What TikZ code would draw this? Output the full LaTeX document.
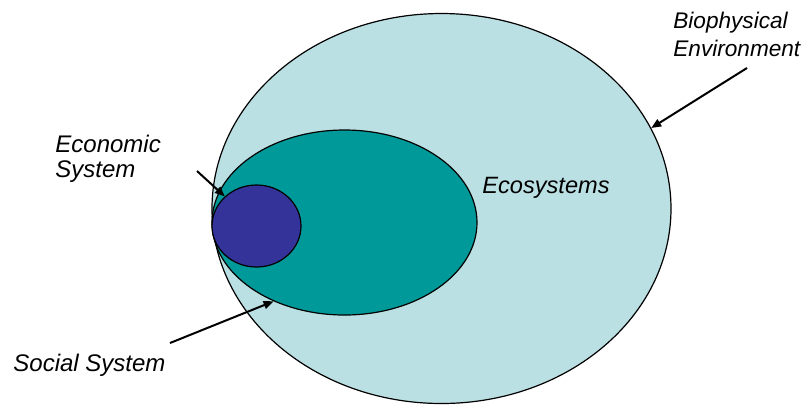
\documentclass[tikz,border=0pt]{standalone}
\usepackage{fontspec}
\setmainfont{Liberation Sans}
\usepackage{xcolor}
\usepackage{tikz}
\usetikzlibrary{arrows.meta,shapes.geometric}
\definecolor{envfill}{RGB}{187,224,227}
\definecolor{ecofill}{RGB}{0,153,153}
\definecolor{econfill}{RGB}{51,51,153}

\begin{document}
\begin{tikzpicture}[
    x=0.5pt, y=-0.5pt,
    >={Triangle[length=5pt,width=4pt]},
    sphere/.style={ellipse, draw=black, line width=0.6pt, inner sep=0pt},
    tag/.style={inner sep=0pt, anchor=base west, align=left, font=\itshape\fontsize{12}{14}\selectfont},
    pointer/.style={->, line width=1pt}
]
\useasboundingbox (0,0) rectangle (809,404);
\node[sphere, fill=envfill, minimum width=229.5pt, minimum height=195pt] (env) at (441.5,208.5) {};
\node[sphere, fill=ecofill, minimum width=132.5pt, minimum height=92.5pt] (eco) at (344.5,222.5) {};
\node[sphere, fill=econfill, minimum width=44.5pt, minimum height=41pt] (econ) at (256.5,226) {};
% two-line tags sit on the baseline of their last line
\node[tag, font=\itshape\fontsize{11.3}{14}\selectfont] (envlabel) at (673,56) {Biophysical\\Environment};
\node[tag, font=\itshape\fontsize{12}{12.3}\selectfont] (econlabel) at (55,177) {Economic\\System};
\node[tag, font=\itshape\fontsize{11.8}{14}\selectfont] (ecolabel) at (482,193) {Ecosystems};
\node[tag] (soclabel) at (13,371) {Social System};
\coordinate (envtail) at (747,68);
\coordinate (econtail) at (197,171);
\coordinate (soctail) at (170,343);
\draw[pointer] (envtail) -- (env.21);
\draw[pointer] (econtail) -- (econ.137);
\draw[pointer] (soctail) -- (eco.228);
\end{tikzpicture}
\end{document}
